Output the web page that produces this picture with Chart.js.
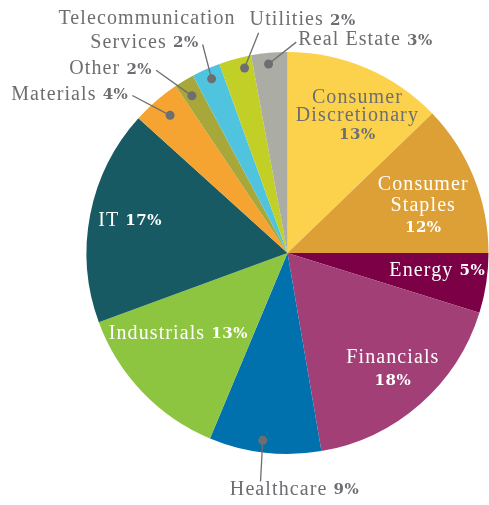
<!DOCTYPE html>
<html><head><meta charset="utf-8">
<script src="https://cdn.jsdelivr.net/npm/chart.js@4/dist/chart.umd.min.js"></script>
<style>html,body{margin:0;padding:0;background:#fff}#wrap{width:489px;height:505px}</style>
</head><body><div id="wrap"><canvas id="c" width="489" height="505"></canvas></div>
<script>
const categories = ["Consumer Discretionary","Consumer Staples","Energy","Financials","Healthcare","Industrials","IT","Materials","Other","Telecommunication Services","Utilities","Real Estate"];
const values = [12.8,12.2,4.8,17.5,9.0,13.1,17.3,3.9,1.6,2.3,2.6,2.9];
const percentLabels = ["13%","12%","5%","18%","9%","13%","17%","4%","2%","2%","2%","3%"];
const colors = ["#FCD24C","#DCA036","#7B0046","#A13F76","#0071AD","#8DC440","#175A63","#F5A331","#A8A73A","#50C4DE","#C2CF27","#ABADA4"];

// label layout: inside labels (polar offset from slice middle) / outside labels with leader lines
const P = i => [percentLabels[i],1];
const labelLayout = [
  {type:"in", lines:[[["Consumer",0]],[["Discretionary",0]],[P(0)]], da:4.0, rf:0.765, lh:18, color:"#6D6E71"},
  {type:"in", lines:[[["Consumer",0]],[["Staples",0]],[P(1)]], da:2.8, rf:0.715, lh:21, color:"#ffffff"},
  {type:"in", lines:[[["Energy ",0],P(2)]], da:-2.0, rf:0.75, lh:20, color:"#ffffff"},
  {type:"in", lines:[[["Financials",0]],[P(3)]], da:-1.0, rf:0.78, lh:22, color:"#ffffff"},
  {type:"out", dotA:1.05, dotR:0.94, endA:0.25, endR:1.145, texts:[{parts:[["Healthcare ",0],P(4)], dx:34, dy:8, align:"center"}]},
  {type:"in", lines:[[["Industrials ",0],P(5)]], da:7.3, rf:0.675, lh:20, color:"#ffffff"},
  {type:"in", lines:[[["IT ",0],P(6)]], da:0.75, rf:0.80, lh:20, color:"#ffffff"},
  {type:"out", dotA:0.4, dotR:0.90, endA:-3.7, endR:1.10, texts:[{parts:[["Materials ",0],P(7)], dx:-4, dy:-1, align:"right"}]},
  {type:"out", dotA:-0.35, dotR:0.915, endA:-4.75, endR:1.12, texts:[{parts:[["Other ",0],P(8)], dx:-4, dy:-1, align:"right"}]},
  {type:"out", dotA:0.4, dotR:0.945, endA:1.8, endR:1.12, texts:[{parts:[["Telecommunication",0]], dx:33, dy:-26, align:"right"},{parts:[["Services ",0],P(9)], dx:-4, dy:-2, align:"right"}]},
  {type:"out", dotA:2.05, dotR:0.945, endA:7.65, endR:1.105, texts:[{parts:[["Utilities ",0],P(10)], dx:-9, dy:-13, align:"left"}]},
  {type:"out", dotA:-0.5, dotR:0.945, endA:7.6, endR:1.05, texts:[{parts:[["Real Estate ",0],P(11)], dx:2, dy:-2, align:"left"}]}
];

const REG = "20px 'Liberation Serif'";
const BOLD = "bold 15px 'DejaVu Serif'";
const GRAY = "#6D6E71";

function setFont(ctx, b){ ctx.font = b ? BOLD : REG; ctx.letterSpacing = b ? "0.5px" : "1.1px"; }
function drawRich(ctx, parts, x, y, align, color){
  let w = 0; const ws = [];
  parts.forEach(p => { setFont(ctx, p[1]); const m = ctx.measureText(p[0]).width; ws.push(m); w += m; });
  let sx = align === "center" ? x - w/2 : align === "right" ? x - w : x;
  ctx.fillStyle = color; ctx.textBaseline = "middle"; ctx.textAlign = "left";
  parts.forEach((p,i) => { setFont(ctx, p[1]); ctx.fillText(p[0], sx, y + (p[1] ? 1 : 0)); sx += ws[i]; });
}

const labelPlugin = {
  id: "labels",
  afterDatasetsDraw(chart){
    const ctx = chart.ctx; const meta = chart.getDatasetMeta(0);
    ctx.save();
    meta.data.forEach((arc, i) => {
      const L = labelLayout[i]; if (!L) return;
      const cx = arc.x, cy = arc.y, R = arc.outerRadius;
      const mid = (arc.startAngle + arc.endAngle) / 2;
      const pt = (dDeg, rf) => { const a = mid + dDeg*Math.PI/180; return [cx + R*rf*Math.cos(a), cy + R*rf*Math.sin(a)]; };
      if (L.type === "in") {
        const [x, y] = pt(L.da, L.rf);
        const n = L.lines.length;
        L.lines.forEach((ln, k) => drawRich(ctx, ln, x, y + (k - (n-1)/2) * L.lh, "center", L.color));
      } else {
        const [dx0, dy0] = pt(L.dotA, L.dotR);
        const [ex, ey] = pt(L.endA, L.endR);
        ctx.strokeStyle = GRAY; ctx.lineWidth = 1.3;
        ctx.beginPath(); ctx.moveTo(dx0, dy0); ctx.lineTo(ex, ey); ctx.stroke();
        ctx.fillStyle = GRAY; ctx.beginPath(); ctx.arc(dx0, dy0, 4.5, 0, Math.PI*2); ctx.fill();
        L.texts.forEach(t => drawRich(ctx, t.parts, ex + t.dx, ey + t.dy, t.align, GRAY));
      }
    });
    ctx.restore();
  }
};

new Chart(document.getElementById("c"), {
  type: "pie",
  data: { labels: categories, datasets: [{ data: values, backgroundColor: colors, borderWidth: 0 }] },
  options: {
    responsive: false, animation: false,
    layout: { padding: { left: 86, right: 0, top: 52, bottom: 51 } },
    plugins: { legend: { display: false }, tooltip: { enabled: false } }
  },
  plugins: [labelPlugin]
});
</script></body></html>
